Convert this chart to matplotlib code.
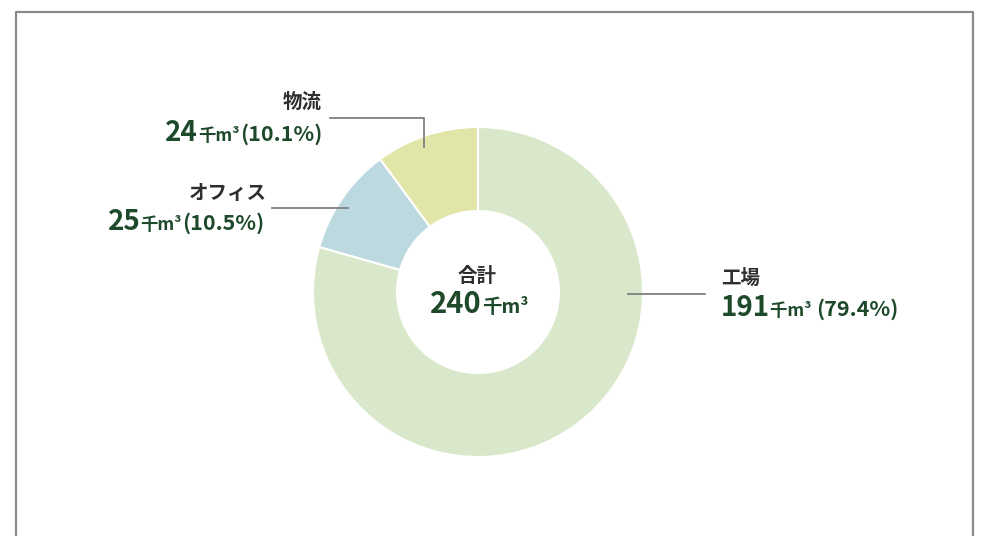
import matplotlib.pyplot as plt

plt.rcParams['font.family'] = ['Noto Sans CJK JP', 'DejaVu Sans']

W, H = 985, 536

# data (clockwise from top)
categories = ["工場", "オフィス", "物流"]
amounts = [191, 25, 24]
shares = [79.4, 10.5, 10.1]
total = 240
unit = "千m³"

colors = ["#d9e8ca", "#bcd9df", "#e1e5a8"]
GREEN = "#1e4a2b"
DARK = "#2e2e2e"
GRAY = "#808080"

NUM = 20
UNIT = 12.5
PCT = 15.5
LAB = 14

fig = plt.figure(figsize=(W / 100, H / 100), dpi=100)
ax = fig.add_axes([0, 0, 1, 1])


def Y(p):
    # pixel row -> data y
    return H - p


ax.pie(shares, colors=colors, startangle=90, counterclock=False,
       radius=165, center=(478, Y(292)),
       wedgeprops=dict(width=84, edgecolor="white", linewidth=1.5))

ax.set_xlim(0, W)
ax.set_ylim(0, H)
ax.set_aspect("auto")
ax.axis("off")

# frame
ax.plot([16, 16, 973, 973], [Y(560), Y(12), Y(12), Y(560)],
        color="#8a8a8a", lw=1.6, clip_on=False)

renderer = fig.canvas.get_renderer()


def rich_line(x, y, parts, ha="left"):
    texts = []
    for s, size, color in parts:
        t = ax.text(0, Y(y), s, fontsize=size, color=color,
                    fontweight="bold", va="baseline", ha="left")
        texts.append(t)
    widths = [t.get_window_extent(renderer).width for t in texts]
    tw = sum(widths)
    if ha == "right":
        start = x - tw
    elif ha == "center":
        start = x - tw / 2
    else:
        start = x
    for t, w in zip(texts, widths):
        t.set_x(start)
        start += w


# 物流
rich_line(322, 108, [(categories[2], LAB, DARK)], ha="right")
rich_line(322, 141, [(str(amounts[2]), NUM, GREEN), (unit, UNIT, GREEN),
                     (f"({shares[2]}%)", PCT, GREEN)], ha="right")
ax.plot([330, 424, 424], [Y(118), Y(118), Y(147)], color=GRAY, lw=1.3)

# オフィス
rich_line(267, 199, [(categories[1], LAB, DARK)], ha="right")
rich_line(264, 230, [(str(amounts[1]), NUM, GREEN), (unit, UNIT, GREEN),
                     (f"({shares[1]}%)", PCT, GREEN)], ha="right")
ax.plot([272, 348], [Y(208), Y(208)], color=GRAY, lw=1.3)

# 工場
rich_line(721, 284, [(categories[0], LAB, DARK)], ha="left")
rich_line(721, 316, [(str(amounts[0]), NUM, GREEN), (unit + " ", UNIT, GREEN),
                     (f"({shares[0]}%)", PCT, GREEN)], ha="left")
ax.plot([628, 705], [Y(294), Y(294)], color=GRAY, lw=1.3)

# center total
rich_line(477, 282, [("合計", LAB, DARK)], ha="center")
rich_line(479, 313, [(str(total), NUM + 1, GREEN), (unit, UNIT + 1.5, GREEN)],
          ha="center")

fig.savefig("out.png", dpi=100, facecolor="white")
